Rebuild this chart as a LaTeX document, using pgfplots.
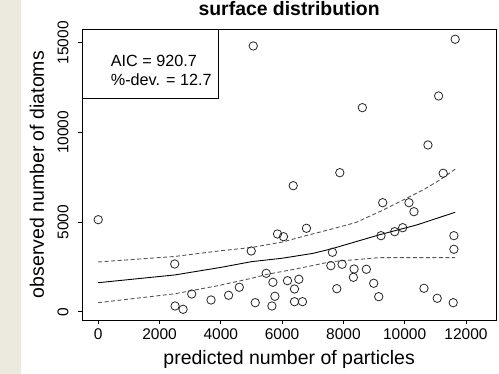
\documentclass[border=0pt]{standalone}
\usepackage{pgfplots}
\pgfplotsset{compat=1.18}
\usepackage{fontspec}
\setmainfont{Liberation Sans}
\definecolor{beige}{RGB}{236,233,222}
\definecolor{dgray}{RGB}{85,85,85}
\begin{document}
\begin{tikzpicture}[x=1pt,y=1pt]
\fill[white] (0,0) rectangle (499,374);
\fill[beige] (0,0) rectangle (20.7,374);
\begin{axis}[
  at={(82.3pt,54pt)}, anchor=south west,
  scale only axis, width=413.7pt, height=290.7pt,
  xmin=-520, xmax=12980, ymin=-463, ymax=15748,
  axis line style={black, line width=0.8pt},
  xtick={0,2000,4000,6000,8000,10000,12000},
  ytick={0,5000,10000,15000},
  xtick pos=bottom, ytick pos=left,
  tick align=outside, major tick length=4pt,
  tick style={black, line width=0.8pt},
  scaled ticks=false,
  /pgf/number format/assume math mode=true,
  /pgf/number format/set thousands separator={},
  ticklabel style={font=\fontsize{15.5}{16}\selectfont, inner sep=0pt},
  xticklabel style={anchor=base},
  xticklabel shift=16pt,
  yticklabel style={rotate=90, anchor=base},
  yticklabel shift=10pt,
  title={\textbf{surface distribution}},
  title style={at={(axis description cs:0.5,1.026)}, anchor=base, font=\fontsize{19.4}{20}\selectfont, inner sep=0pt},
  xlabel={predicted number of particles},
  xlabel style={at={(axis description cs:0.5,-0.1516)}, anchor=base, font=\fontsize{19.5}{20}\selectfont, inner sep=0pt},
  ylabel={observed number of diatoms},
  ylabel style={at={(axis description cs:-0.0927,0.5)}, rotate=0, anchor=base, font=\fontsize{19.5}{20}\selectfont, inner sep=0pt},
  clip=false,
]
\addplot[only marks, mark=o, mark size=4.2pt, mark options={line width=0.8pt, black!85}] coordinates {
(0,5131) (2495,2660) (2508,318) (2769,134) (3050,987) (3681,653) (4254,915)
(4603,1361) (4993,3385) (5059,14819) (5124,502) (5482,2141) (5668,318) (5700,1640)
(5765,859) (5850,4334) (6046,4183) (6176,1729) (6362,7027) (6404,1266) (6404,558)
(6547,1807) (6665,558) (6795,4651) (7590,2566) (7642,3313) (7785,1283) (7883,7752)
(7958,2644) (8326,1918) (8349,2381) (8619,11378) (8749,2365) (8990,1584) (9153,837)
(9228,4239) (9283,6079) (9674,4462) (9935,4685) (10140,6079) (10303,5577) (10629,1305)
(10759,9297) (11062,747) (11107,12030) (11257,7719) (11583,502) (11606,4239)
(11606,3480) (11648,15192)
};
\addplot[black, line width=0.9pt] coordinates {
(0,1617) (2500,2050) (4000,2470) (5000,2790) (6000,2980) (7000,3250) (7600,3500)
(8200,3800) (9200,4300) (10400,4840) (11648,5544)
};
\addplot[dgray, line width=0.9pt, dash pattern=on 4pt off 2.5pt] coordinates {
(0,2772) (2500,3080) (4000,3400) (5000,3580) (6000,3880) (6800,4250) (7600,4600)
(8400,4970) (9300,5670) (10600,6790) (11150,7345) (11648,7950)
};
\addplot[dgray, line width=0.9pt, dash pattern=on 4pt off 2.5pt] coordinates {
(0,502) (2500,1000) (3900,1450) (5000,1860) (5500,2080) (6500,2400) (7600,2790)
(8400,2900) (9140,3011) (11648,3011)
};
\draw[black, line width=0.8pt] (axis description cs:0,1) rectangle (axis description cs:0.3297,0.7613);
\node[anchor=base west, inner sep=0pt, font=\fontsize{16.2}{17}\selectfont] at (axis description cs:0.0687,0.8713) {AIC = 920.7};
\node[anchor=base west, inner sep=0pt, font=\fontsize{16.2}{17}\selectfont] at (axis description cs:0.0687,0.805) {\%-dev. = 12.7};
\end{axis}
\end{tikzpicture}
\end{document}
